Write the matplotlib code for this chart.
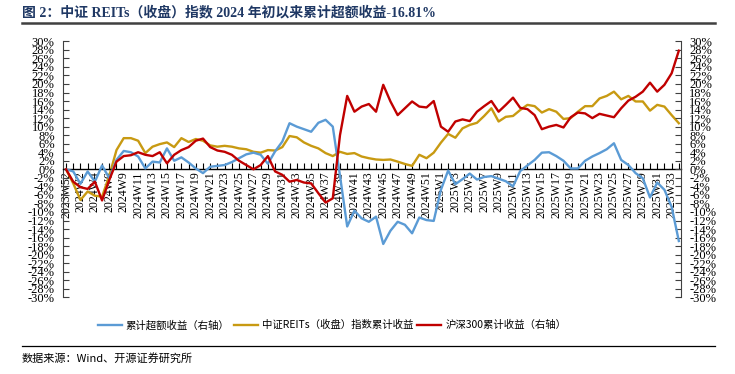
import matplotlib
matplotlib.use('Agg')
import matplotlib.pyplot as plt
from matplotlib.lines import Line2D
from matplotlib.ticker import FixedLocator, FuncFormatter

weeks = ['2023W52', '2024W1', '2024W2', '2024W3', '2024W4', '2024W5', '2024W6',
         '2024W8', '2024W9', '2024W10', '2024W11', '2024W12', '2024W13', '2024W14',
         '2024W15', '2024W16', '2024W17', '2024W18', '2024W19', '2024W20', '2024W21',
         '2024W22', '2024W23', '2024W24', '2024W25', '2024W26', '2024W27', '2024W28',
         '2024W29', '2024W30', '2024W31', '2024W32', '2024W33', '2024W34', '2024W35',
         '2024W36', '2024W37', '2024W38', '2024W39', '2024W40', '2024W41', '2024W42',
         '2024W43', '2024W44', '2024W45', '2024W46', '2024W47', '2024W48', '2024W49',
         '2024W50', '2024W51', '2024W52', '2025W1', '2025W2', '2025W3', '2025W4',
         '2025W5', '2025W6', '2025W7', '2025W8', '2025W9', '2025W10', '2025W11',
         '2025W12', '2025W13', '2025W14', '2025W15', '2025W16', '2025W17', '2025W18',
         '2025W19', '2025W20', '2025W21', '2025W22', '2025W23', '2025W24', '2025W25',
         '2025W26', '2025W27', '2025W28', '2025W29', '2025W30', '2025W31', '2025W32',
         '2025W33', '2025W34']

# cumulative excess return (right axis), %
excess = [0.0, -0.5, -3.4, -0.5, -2.9, 0.9, -2.1, 2.2, 4.3, 4.0,
          3.0, 0.2, 1.8, 1.6, 4.9, 2.0, 2.8, 1.6, 0.2, -0.9,
          0.6, 0.8, 1.0, 1.7, 2.6, 3.5, 3.9, 3.4, 1.3, 4.2,
          6.5, 10.8, 10.0, 9.4, 8.8, 10.9, 11.6, 10.0, -1.5, -13.4,
          -9.7, -11.5, -12.3, -11.1, -17.5, -14.4, -12.3, -13.0, -15.0, -11.3,
          -11.9, -12.1, -4.8, -0.3, -3.5, -2.3, -1.0, -2.4, -1.8, -1.6,
          -2.2, -2.8, -4.0, -0.4, 0.9, 2.2, 3.9, 4.0, 3.1, 2.0,
          0.2, 0.2, 2.0, 3.0, 3.8, 4.7, 6.1, 2.2, 1.0, -0.9,
          -2.1, -6.6, -3.1, -4.8, -8.8, -16.81]

# CSI REITs (close) index cumulative return (left axis), %
reits = [0.0, -3.3, -7.2, -5.2, -6.2, -6.4, -1.5, 4.5, 7.3, 7.3,
         6.7, 3.8, 5.3, 5.9, 6.3, 5.2, 7.3, 6.4, 7.1, 6.7,
         5.6, 5.3, 5.5, 5.3, 4.9, 4.7, 4.1, 3.9, 4.5, 4.4,
         5.2, 7.8, 7.5, 6.3, 5.5, 4.9, 3.8, 3.1, 4.1, 3.6,
         3.8, 3.0, 2.6, 2.3, 2.2, 2.3, 1.8, 1.25, 0.8, 3.4,
         2.6, 3.9, 6.25, 8.3, 7.4, 9.6, 10.4, 10.9, 12.5, 14.3,
         11.2, 12.3, 12.5, 13.9, 15.1, 14.8, 13.3, 14.1, 13.5, 11.8,
         12.0, 13.5, 14.8, 14.8, 16.6, 17.2, 18.2, 16.4, 17.2, 15.9,
         15.9, 13.75, 15.1, 14.7, 12.7, 10.8]

# CSI 300 cumulative return (right axis), %
hs300 = [0.0, -2.9, -4.2, -4.6, -2.9, -7.3, -2.5, 1.8, 3.1, 3.3,
         4.0, 3.4, 3.1, 4.0, 1.4, 3.4, 4.5, 5.2, 6.7, 7.2,
         5.2, 4.4, 4.1, 3.4, 2.0, 1.0, 0.0, 1.0, 3.1, -0.5,
         -1.3, -2.9, -2.5, -3.1, -3.3, -5.6, -7.8, -6.8, 8.0, 17.2,
         13.5, 14.7, 15.3, 13.5, 19.8, 15.9, 12.7, 14.3, 15.9, 14.7,
         14.5, 16.0, 10.0, 8.8, 11.2, 11.7, 11.3, 13.5, 14.8, 16.0,
         13.5, 15.1, 16.8, 14.4, 14.1, 12.7, 9.4, 10.0, 10.4, 9.8,
         12.2, 13.3, 13.1, 12.0, 13.0, 12.6, 12.2, 14.3, 16.1, 17.0,
         18.2, 20.3, 18.2, 19.8, 22.5, 27.8]

yticks = list(range(-30, 31, 2))

series_names = ['累计超额收益（右轴）', '中证REITs（收盘）指数累计收益', '沪深300累计收益（右轴）']
title = '图 2：中证 REITs（收盘）指数 2024 年初以来累计超额收益-16.81%'
source = '数据来源：Wind、开源证券研究所'

C_BLUE = '#5B9BD5'
C_GOLD = '#C89A12'
C_RED = '#C00000'
SERIF = ['Liberation Serif', 'Noto Sans CJK SC']
CJK = ['Noto Sans CJK SC', 'Liberation Serif']

fig = plt.figure(figsize=(7.35, 3.74), dpi=100)
W, H = 735.0, 374.0
ax = fig.add_axes([63 / W, 1 - 297.3 / H, (681 - 63) / W, (297.3 - 41.3) / H])
ax2 = ax.twinx()

x = list(range(len(weeks)))
l_gold, = ax.plot(x, reits, color=C_GOLD, lw=1.7, solid_joinstyle='round')
l_blue, = ax2.plot(x, excess, color=C_BLUE, lw=1.7, solid_joinstyle='round')
l_red, = ax2.plot(x, hs300, color=C_RED, lw=1.7, solid_joinstyle='round')

for a in (ax, ax2):
    a.set_ylim(-30, 30)
    a.set_xlim(-0.42, 85.3)
    a.yaxis.set_major_locator(FixedLocator(yticks))
    a.yaxis.set_major_formatter(FuncFormatter(lambda v, p: f"{int(round(v))}%"))
    a.spines['top'].set_visible(False)
    a.tick_params(axis='y', direction='in', length=4, width=0.8, color='#404040',
                  labelsize=9, pad=6)
    for lab in a.get_yticklabels():
        lab.set_family('Liberation Serif')

ax.spines['right'].set_visible(False)
ax.spines['left'].set_color('#404040')
ax2.spines['left'].set_visible(False)
ax2.spines['bottom'].set_visible(False)
ax2.spines['right'].set_color('#404040')

ax.spines['bottom'].set_position(('data', 0))
ax.spines['bottom'].set_color('black')
ax.spines['bottom'].set_linewidth(1.0)
ax.set_xticks(x)
ax.set_xticklabels([w if i % 2 == 0 else '' for i, w in enumerate(weeks)],
                   rotation=90, family='Liberation Serif', fontsize=8.6,
                   va='top', ha='center')
ax.tick_params(axis='x', direction='in', length=4, width=0.8, color='black', pad=1.5)

for lab in ax.get_yticklabels() + ax2.get_yticklabels():
    lab.set_fontfamily('Liberation Serif')

fig.legend([l_blue, l_gold, l_red], series_names, loc='center',
           bbox_to_anchor=(332 / W, 1 - 325 / H), ncol=3, frameon=False,
           prop=dict(family=CJK, size=7.5), handlelength=2.3,
           columnspacing=0.4, handletextpad=0.4)

fig.text(22 / W, 1 - 12 / H, title, fontsize=10, fontweight='bold',
         color='#1F3864', family=SERIF, ha='left', va='center')
fig.add_artist(Line2D([22 / W, 715 / W], [1 - 22.5 / H, 1 - 22.5 / H],
                      color='#404040', lw=1.8))
fig.add_artist(Line2D([22 / W, 715 / W], [1 - 346 / H, 1 - 346 / H],
                      color='black', lw=0.9))
fig.text(22 / W, 1 - 358 / H, source, fontsize=8, family=CJK,
         ha='left', va='center', color='black')

fig.savefig('out.png', dpi=100)
